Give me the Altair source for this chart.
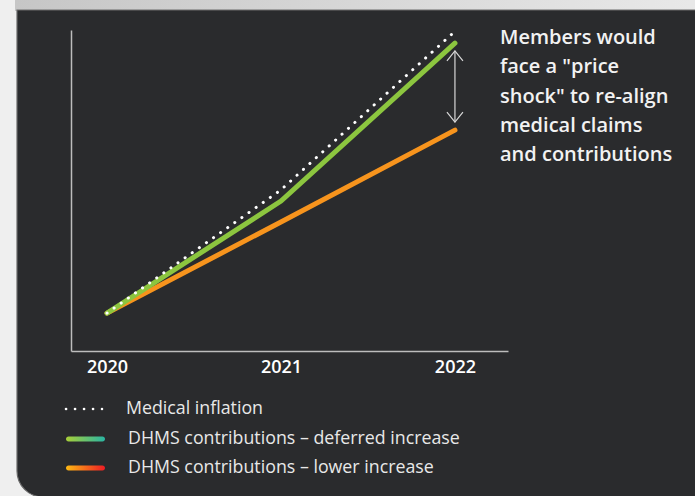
import altair as alt
import pandas as pd

YEARS = [2020, 2021, 2022]
SERIES = [
    "Medical inflation",
    "DHMS contributions – deferred increase",
    "DHMS contributions – lower increase",
]
MEDICAL = [11.8, 50.2, 99.6]
DEFERRED = [11.8, 46.7, 95.9]
LOWER = [11.8, 40.2, 68.8]
ARROW_RANGE = [71.3, 93.5]   # gap shown by the double-headed arrow (at 2022)
NOTE = ['Members would', 'face a "price', 'shock" to re-align', 'medical claims', 'and contributions']

FONT = "Open Sans"
PANEL = "#2a2b2d"
GREEN = "#8cc63f"
ORANGE = "#f7941d"

rows = []
for name, vals in zip(SERIES, [MEDICAL, DEFERRED, LOWER]):
    for y, v in zip(YEARS, vals):
        rows.append({"year": y, "value": v, "series": name})
df = pd.DataFrame(rows)

xscale = alt.Scale(domain=[2019.793, 2022.305], nice=False, zero=False)
yscale = alt.Scale(domain=[0, 100], nice=False, zero=False)

one = alt.Data(values=[{"k": 1}])

# page background pieces
top_strip = alt.Chart(one).mark_rect(
    fill=alt.LinearGradient(gradient="linear",
                            stops=[alt.GradientStop(color="#c6c6c6", offset=0),
                                   alt.GradientStop(color="#ececec", offset=1)],
                            x1=0, x2=1, y1=0, y2=0)
).encode(x=alt.value(-56), x2=alt.value(700), y=alt.value(-31), y2=alt.value(-19))

panel = alt.Chart(one).mark_rect(
    fill=PANEL, stroke="#6a6a6a", strokeWidth=1.2, cornerRadiusBottomLeft=26
).encode(x=alt.value(-54), x2=alt.value(720), y=alt.value(-20), y2=alt.value(467))

base = alt.Chart(df).encode(
    x=alt.X("year:Q", scale=xscale,
            axis=alt.Axis(values=YEARS, format="d", title=None, ticks=False, grid=False,
                          domainColor="#bdbdbd", domainWidth=1.5, labelFont=FONT,
                          labelFontWeight=600, labelFontSize=18, labelColor="#ffffff",
                          labelPadding=7, labelFlush=False, zindex=1)),
    y=alt.Y("value:Q", scale=yscale,
            axis=alt.Axis(title=None, labels=False, ticks=False, grid=False,
                          domainColor="#bdbdbd", domainWidth=1.5, zindex=1)),
)

lower = base.transform_filter(alt.datum.series == SERIES[2]).mark_line(
    color=ORANGE, strokeWidth=5, strokeCap="round")
deferred = base.transform_filter(alt.datum.series == SERIES[1]).mark_line(
    color=GREEN, strokeWidth=5, strokeCap="round")
medical = base.transform_filter(alt.datum.series == SERIES[0]).mark_line(
    color="#ffffff", strokeWidth=3, strokeCap="round", strokeDash=[0.1, 8.6])

arrow_df = pd.DataFrame({"year": [YEARS[-1]], "lo": [ARROW_RANGE[0]], "hi": [ARROW_RANGE[1]]})
arrow_rule = alt.Chart(arrow_df).mark_rule(color="#d8d8d8", strokeWidth=1.2).encode(
    x=alt.X("year:Q", scale=xscale), y=alt.Y("lo:Q", scale=yscale), y2="hi:Q")
head_top = alt.Chart(arrow_df).mark_point(
    shape="M -1 1.25 L 0 0 L 1 1.25", size=256, filled=False, stroke="#d8d8d8",
    strokeWidth=1.2, opacity=1).encode(x=alt.X("year:Q", scale=xscale), y=alt.Y("hi:Q", scale=yscale))
head_bot = alt.Chart(arrow_df).mark_point(
    shape="M -1 -1.25 L 0 0 L 1 -1.25", size=256, filled=False, stroke="#d8d8d8",
    strokeWidth=1.2, opacity=1).encode(x=alt.X("year:Q", scale=xscale), y=alt.Y("lo:Q", scale=yscale))

note = alt.Chart(one).mark_text(
    text=NOTE, align="left", baseline="middle", font=FONT, fontSize=20, fontWeight=600,
    color="#f2f2f2", lineHeight=29.3
).encode(x=alt.value(429), y=alt.value(8))

# custom legend
leg_dots = alt.Chart(one).mark_rule(
    color="#ffffff", strokeWidth=2.6, strokeCap="round", strokeDash=[0.1, 8.9]
).encode(x=alt.value(-5), x2=alt.value(31), y=alt.value(379))
leg_green = alt.Chart(one).mark_rect(
    cornerRadius=2.5,
    fill=alt.LinearGradient(gradient="linear",
                            stops=[alt.GradientStop(color="#a8cf38", offset=0),
                                   alt.GradientStop(color="#2ab5a3", offset=1)],
                            x1=0, x2=1, y1=0, y2=0)
).encode(x=alt.value(-5), x2=alt.value(34), y=alt.value(406.5), y2=alt.value(411.5))
leg_orange = alt.Chart(one).mark_rect(
    cornerRadius=2.5,
    fill=alt.LinearGradient(gradient="linear",
                            stops=[alt.GradientStop(color="#fdb913", offset=0),
                                   alt.GradientStop(color="#ed1c24", offset=1)],
                            x1=0, x2=1, y1=0, y2=0)
).encode(x=alt.value(-5), x2=alt.value(34), y=alt.value(435.5), y2=alt.value(440.5))

leg_texts = []
for name, xx, yy in zip(SERIES, [55, 57, 57], [379, 409, 438]):
    leg_texts.append(alt.Chart(one).mark_text(
        text=name, align="left", baseline="middle", font=FONT, fontSize=17.8,
        color="#e8e8e8").encode(x=alt.value(xx), y=alt.value(yy)))

chart = alt.layer(
    top_strip, panel, lower, deferred, medical, arrow_rule, head_top, head_bot, note,
    leg_dots, leg_green, leg_orange, *leg_texts
).properties(
    width=437, height=321,
    background="#efefef",
    padding={"left": 71, "top": 30, "right": 187, "bottom": 145},
    autosize=alt.AutoSizeParams(type="none"),
).configure_view(strokeWidth=0)

chart.save("out.html", embed_options={"renderer": "svg", "actions": False})
